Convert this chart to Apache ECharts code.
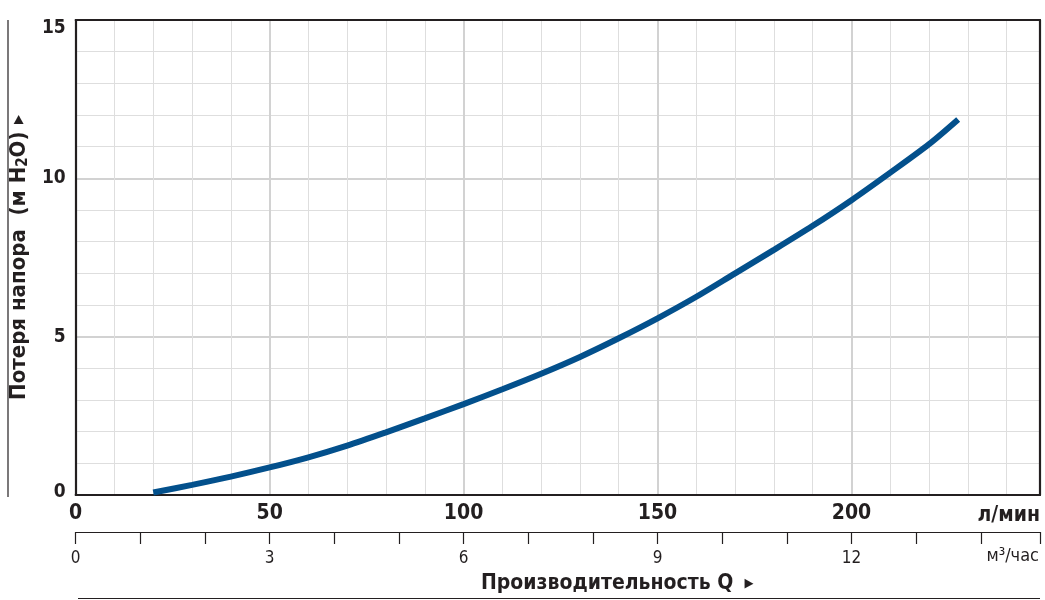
<!DOCTYPE html>
<html>
<head>
<meta charset="utf-8">
<script src="https://cdn.jsdelivr.net/npm/echarts@6/dist/echarts.min.js"></script>
<style>
html,body{margin:0;padding:0;background:#fff;}
#chart{width:1045px;height:600px;}
</style>
</head>
<body>
<div id="chart"></div>
<script>
// Flow (l/min) and head loss (m H2O)
var flowLpm  = [20, 30, 40, 50, 60, 70, 80, 90, 100, 110, 120, 130, 140, 150, 160, 170, 180, 190, 200, 210, 220, 227.5];
var headLoss = [0.08, 0.32, 0.58, 0.87, 1.19, 1.56, 1.98, 2.42, 2.87, 3.34, 3.83, 4.36, 4.95, 5.58, 6.26, 7.0, 7.74, 8.5, 9.31, 10.18, 11.08, 11.86];
var lpmTickLabels = [0, 50, 100, 150, 200];
var m3hTickLabels = [0, 3, 6, 9, 12];
var yTickLabels = [0, 5, 10, 15];
var xUnit = 'л/мин';
var x2Unit = 'м³/час';
var xTitle = 'Производительность Q';
var yTitle = 'Потеря напора';
var yTitleUnit = ['(м H', '2', 'O)'];

var LPM_PER_M3H = 1000 / 60;
var X_MAX = 248.6;

var FONT = '"Liberation Sans Narrow", "DejaVu Sans Condensed", "Liberation Sans", sans-serif';
var INK = '#231f20';

var pairs = flowLpm.map(function (q, i) { return [q, headLoss[i]]; });

var chart = echarts.init(document.getElementById('chart'));
chart.setOption({
  backgroundColor: '#fff',
  animation: false,
  grid: {
    left: 74, right: 5, top: 20, bottom: 105,
    show: false, containLabel: false
  },
  xAxis: [
    { // minor grid, l/min
      type: 'value', position: 'bottom', min: 0, max: X_MAX, interval: 10,
      axisLine: { show: false }, axisTick: { show: false },
      axisLabel: { show: false },
      splitLine: { show: true, lineStyle: { color: '#dedede', width: 1 } }
    },
    { // major grid + labels, l/min
      type: 'value', position: 'bottom', min: 0, max: X_MAX, interval: 50,
      axisLine: { show: true, onZero: false, lineStyle: { color: INK, width: 2.2 } },
      axisTick: { show: false },
      axisLabel: {
        show: true, margin: 8, color: INK,
        fontFamily: FONT, fontWeight: 'bold', fontSize: 21,
        formatter: function (v) { return lpmTickLabels.indexOf(v) >= 0 ? String(v) : ''; }
      },
      splitLine: { show: true, lineStyle: { color: '#d2d2d2', width: 2 } }
    },
    { // secondary scale, m3/h
      type: 'value', position: 'bottom', offset: 37,
      min: 0, max: X_MAX / LPM_PER_M3H, interval: 1,
      axisLine: { show: true, onZero: false, lineStyle: { color: INK, width: 1.2 } },
      axisTick: { show: true, length: 12, lineStyle: { color: INK, width: 1.2 } },
      axisLabel: {
        show: true, margin: 18, color: INK,
        fontFamily: FONT, fontSize: 17,
        formatter: function (v) { return m3hTickLabels.indexOf(v) >= 0 ? String(v) : ''; }
      },
      splitLine: { show: false }
    },
    { // top frame
      type: 'value', position: 'top', min: 0, max: X_MAX,
      axisLine: { show: true, onZero: false, lineStyle: { color: INK, width: 2.2 } },
      axisTick: { show: false }, axisLabel: { show: false }, splitLine: { show: false }
    }
  ],
  yAxis: [
    {
      type: 'value', min: 0, max: 15, interval: 1,
      axisLine: { show: false }, axisTick: { show: false },
      axisLabel: { show: false },
      splitLine: { show: true, lineStyle: { color: '#dedede', width: 1 } }
    },
    {
      type: 'value', min: 0, max: 15, interval: 5, position: 'left',
      axisLine: { show: true, onZero: false, lineStyle: { color: INK, width: 2.2 } },
      axisTick: { show: false },
      axisLabel: {
        show: true, margin: 10, color: INK,
        fontFamily: FONT, fontWeight: 'bold', fontSize: 19,
        formatter: function (v) {
          if (yTickLabels.indexOf(v) < 0) return '';
          if (v === 15) return '{mx|' + v + '}';
          if (v === 0) return '{mn|' + v + '}';
          return String(v);
        },
        rich: {
          mx: { padding: [16, 0, 0, 0], fontFamily: FONT, fontWeight: 'bold', fontSize: 19, color: INK },
          mn: { padding: [0, 0, 5, 0], fontFamily: FONT, fontWeight: 'bold', fontSize: 19, color: INK }
        }
      },
      splitLine: { show: true, lineStyle: { color: '#d2d2d2', width: 2 } },
      name: '{t|' + yTitle + '  ' + yTitleUnit[0] + '}{s|' + yTitleUnit[1] + '}{t|' + yTitleUnit[2] + '}{a|  ▶}',
      nameLocation: 'middle', nameRotate: 90, nameGap: 34,
      nameTextStyle: {
        rich: {
          t: { fontFamily: FONT, fontWeight: 'bold', fontSize: 22, color: INK },
          s: { fontFamily: FONT, fontWeight: 'bold', fontSize: 15, color: INK, padding: [9, 0, 0, 0] },
          a: { fontFamily: FONT, fontSize: 13, color: INK }
        }
      }
    },
    { // right frame
      type: 'value', position: 'right', min: 0, max: 15,
      axisLine: { show: true, onZero: false, lineStyle: { color: INK, width: 2.2 } },
      axisTick: { show: false }, axisLabel: { show: false }, splitLine: { show: false }
    }
  ],
  graphic: [
    { type: 'line', shape: { x1: 8, y1: 20, x2: 8, y2: 497 }, style: { stroke: INK, lineWidth: 1.2 } },
    { type: 'line', shape: { x1: 78, y1: 598.5, x2: 1040, y2: 598.5 }, style: { stroke: INK, lineWidth: 1.2 } },
    { type: 'text', right: 5, top: 505, style: { text: xUnit, fontFamily: FONT, fontWeight: 'bold', fontSize: 21, fill: INK } },
    { type: 'text', right: 6, top: 547, style: { text: x2Unit, fontFamily: FONT, fontSize: 18, fill: INK } },
    { type: 'text', left: 481, top: 573, style: {
        text: '{t|' + xTitle + '}{a|   ▶}',
        rich: {
          t: { fontFamily: FONT, fontWeight: 'bold', fontSize: 21, fill: INK },
          a: { fontFamily: FONT, fontSize: 13, fill: INK }
        }
      } }
  ],
  series: [
    {
      type: 'line', xAxisIndex: 1, yAxisIndex: 1,
      data: pairs, smooth: 0.3, showSymbol: false, symbol: 'none',
      lineStyle: { color: '#03508c', width: 6, cap: 'butt' },
      z: 5
    }
  ]
});
</script>
</body>
</html>
